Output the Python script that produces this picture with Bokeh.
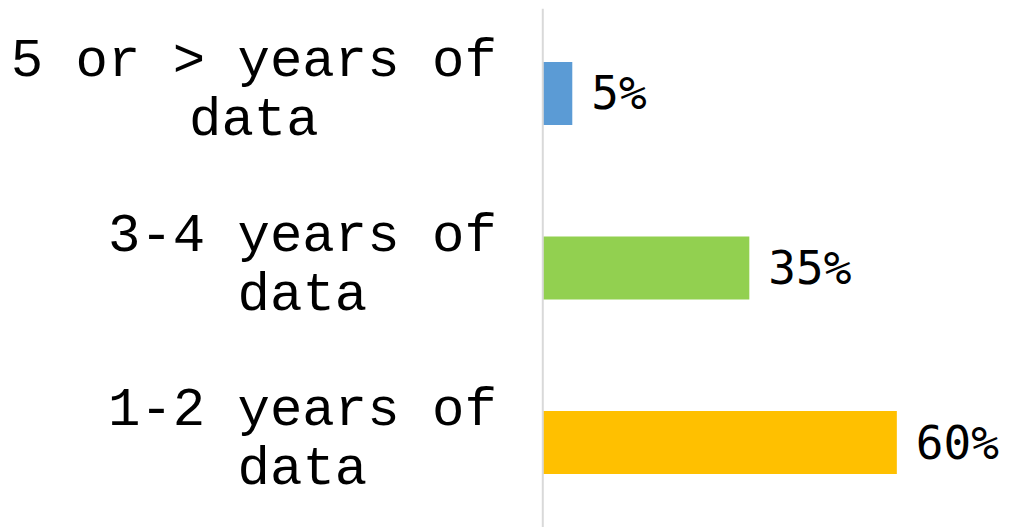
from bokeh.plotting import figure
from bokeh.models import FactorRange, Range1d, ColumnDataSource, Span
from bokeh.core.properties import value
from bokeh.embed import file_html
from bokeh.resources import INLINE

# data (bottom to top)
categories = ["1-2 years of\ndata", "3-4 years of\ndata", "5 or > years of\ndata"]
percent = [60, 35, 5]
labels = ["60%", "35%", "5%"]
colors = ["#FFC000", "#92D050", "#5B9BD5"]

FONT_PX = 54
CHAR_W = 0.6 * FONT_PX      # monospace advance
STANDOFF = 46               # px between label block and axis

line1 = [c.split("\n")[0] for c in categories]
line2 = [c.split("\n")[1] for c in categories]
off2 = [-(STANDOFF + len(a) * CHAR_W / 2) for a in line1]

src = ColumnDataSource(dict(cat=categories, pct=percent, lab=labels, col=colors,
                            l1=line1, l2=line2, off2=off2))

p = figure(width=1012, height=527, output_backend="svg", toolbar_location=None,
           y_range=FactorRange(*categories, range_padding=-0.013, range_padding_units="absolute"),
           x_range=Range1d(-91.9, 79.6), x_axis_location=None, y_axis_location=None,
           min_border_left=0, min_border_right=0, min_border_top=8, min_border_bottom=0)
p.outline_line_color = None
p.xgrid.visible = False
p.ygrid.visible = False

# category axis line
p.add_layout(Span(location=0, dimension="height", line_color="#D9D9D9", line_width=2))

p.hbar(y="cat", left=0, right="pct", height=0.36, fill_color="col", line_color=None, source=src)

cat_font = value("Courier New, Nimbus Mono PS, FreeMono, Liberation Mono")
# first line: right-aligned to the axis
p.text(x=0, y="cat", text="l1", x_offset=-STANDOFF, y_offset=-32, text_baseline="alphabetic",
       text_align="right", text_font=cat_font, text_font_size=f"{FONT_PX}px",
       text_color="#000000", source=src)
# second line: centred under the first line
p.text(x=0, y="cat", text="l2", x_offset="off2", y_offset=27, text_baseline="alphabetic",
       text_align="center", text_font=cat_font, text_font_size=f"{FONT_PX}px",
       text_color="#000000", source=src)

# value labels
p.text(x="pct", y="cat", text="lab", x_offset=19, text_baseline="middle", text_align="left",
       text_font=value("DejaVu Sans Mono"), text_font_size="46px", text_color="#000000", source=src)

open("out.html", "w").write(file_html(p, INLINE))
